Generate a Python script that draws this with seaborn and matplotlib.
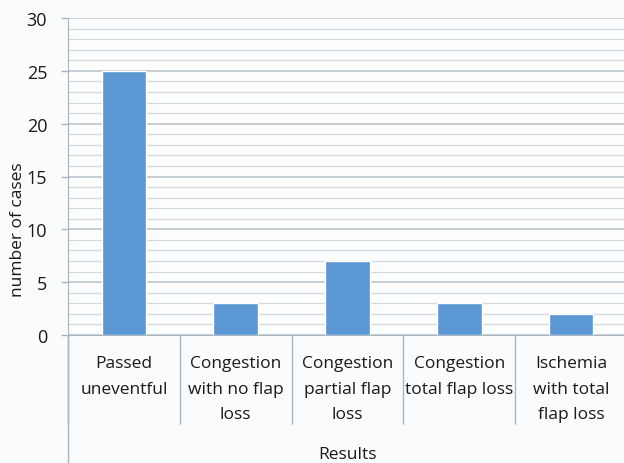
import matplotlib
matplotlib.use("Agg")
import matplotlib.pyplot as plt
import seaborn as sns
import pandas as pd
from matplotlib.ticker import MultipleLocator

# Outcome categories and number of cases
categories = [
    "Passed\nuneventful",
    "Congestion\nwith no flap\nloss",
    "Congestion\npartial flap\nloss",
    "Congestion\ntotal flap loss",
    "Ischemia\nwith total\nflap loss",
]
cases = [25, 3, 7, 3, 2]
y_ticks = [0, 5, 10, 15, 20, 25, 30]

df = pd.DataFrame({"Results": categories, "cases": cases})

sns.set_style("white")
plt.rcParams["font.family"] = ["Open Sans", "DejaVu Sans"]

fig = plt.figure(figsize=(6.24, 4.64), dpi=100, facecolor="#fafbfd")
ax = fig.add_axes([68 / 624, 1 - 336 / 464, 559 / 624, 317 / 464])
ax.set_facecolor("#fdfdfd")

sns.barplot(data=df, x="Results", y="cases", color="#5b97d2", width=0.4,
            saturation=1, ax=ax, zorder=3)

ax.set_xlim(-0.5, len(categories) - 0.5)
ax.set_ylim(0, 30)
ax.set_yticks(y_ticks)
ax.yaxis.set_minor_locator(MultipleLocator(1))

# Gridlines: major every 5, minor every 1
ax.grid(which="major", axis="y", color="#b7c1ca", linewidth=1.1, zorder=0)
ax.grid(which="minor", axis="y", color="#d3dbe2", linewidth=0.9, zorder=0)
ax.set_axisbelow(True)

for side in ["top", "right"]:
    ax.spines[side].set_visible(False)
ax.spines["left"].set_color("#aab4be")
ax.spines["bottom"].set_color("#aab4be")

# Category separators below the axis
ax.set_xticks([i - 0.5 for i in range(len(categories) + 1)], minor=True)
ax.tick_params(axis="x", which="minor", bottom=True, length=64,
               color="#aab4be", width=1)
ax.tick_params(axis="x", which="major", bottom=False, length=0,
               labelbottom=False)
ax.tick_params(axis="y", which="major", left=True, length=5, color="#aab4be",
               width=1, pad=10, labelsize=13, labelcolor="#1a1a1a")
ax.tick_params(axis="y", which="minor", left=False, length=0)

# Category names under each bar, with wider line spacing
xform = ax.get_xaxis_transform()
for i, name in enumerate(categories):
    ax.text(i, -0.064, name, transform=xform, ha="center", va="top",
            fontsize=12.5, color="#1a1a1a", linespacing=1.8, clip_on=False)

# Extend the vertical axis line down through the label area
ax.plot([0, 0], [0, -0.41], transform=ax.transAxes, color="#aab4be",
        linewidth=1, clip_on=False)

ax.set_xlabel("Results", fontsize=12.5, color="#1a1a1a")
ax.xaxis.set_label_coords(0.5, -0.35)
ax.set_ylabel("number of cases", fontsize=12.5, color="#1a1a1a")
ax.yaxis.set_label_coords(-0.075, 0.334)

fig.savefig("out.png", dpi=100, facecolor=fig.get_facecolor())
